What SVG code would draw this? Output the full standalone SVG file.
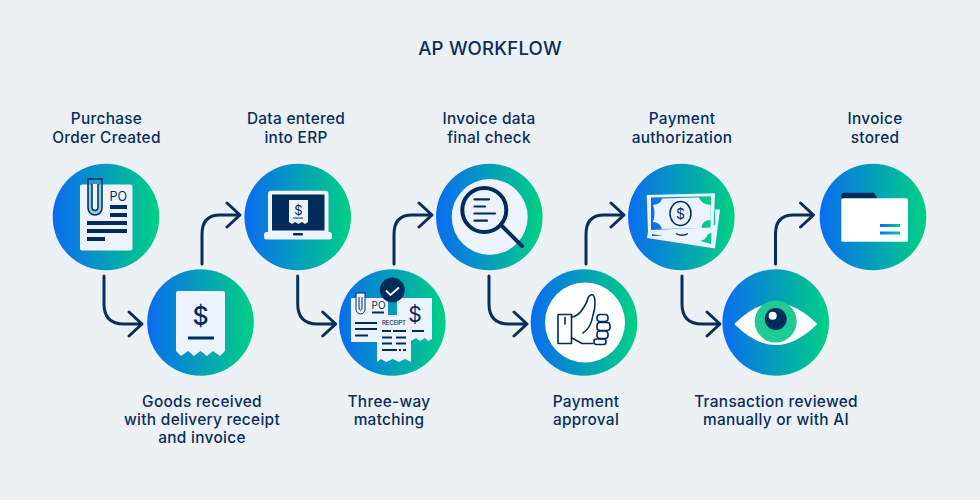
<svg xmlns="http://www.w3.org/2000/svg" width="980" height="500" viewBox="0 0 980 500">
<style>
text{font-family:"Inter","Noto Sans",sans-serif;fill:#0c2d57;font-weight:500}
.l{font-size:15.4px;letter-spacing:.3px;text-anchor:middle}
.c{fill:none;stroke:#0c2d57;stroke-width:3;stroke-linecap:round;stroke-linejoin:round}
.p{fill:#edf3fd}
.d{fill:#002c5c}
.s{fill:none;stroke:#002c5c;stroke-width:3}
.t{fill:none;stroke:#002c5c;stroke-width:1.6;stroke-linecap:round;stroke-linejoin:round}
.n{fill:url(#g)}
</style>
<defs>
<linearGradient id="g"><stop offset="0" stop-color="#0a6cf0"/><stop offset="1" stop-color="#00d084"/></linearGradient>
<path id="dn" class="c" d="M0 0V28Q0 48 20 48H37M25 36L38 48L25 60"/>
<path id="up" class="c" d="M0 0V-30Q0 -49 18 -49H37M25 -61L38 -49L25 -37"/>
</defs>
<rect width="980" height="500" fill="#ebf1f4"/>
<text x="490" y="55" style="font-size:18.6px;letter-spacing:.2px;text-anchor:middle">AP WORKFLOW</text>
<g id="connectors">
<use href="#dn" x="104" y="276"/><use href="#up" x="202" y="264"/>
<use href="#dn" x="297.7" y="276"/><use href="#up" x="394" y="264"/>
<use href="#dn" x="489" y="276"/><use href="#up" x="586" y="264"/>
<use href="#dn" x="682" y="276"/><use href="#up" x="775.5" y="264"/>
</g>
<g id="n1">
<circle class="n" cx="106" cy="217" r="53.3"/>
<rect class="p" x="80" y="184.500" width="52.500" height="66" rx="2"/>
<path d="M88 179H102V208A7 7 0 0 1 88 208Z" fill="#3aa7c9" fill-opacity=".5" stroke="#002c5c" stroke-width="1.500"/>
<path d="M92 184V207A3 3.500 0 0 0 98 207V184" fill="#edf3fd" stroke="#002c5c" stroke-width="1.500"/>
<text x="109.500" y="201" style="font-size:12.500px;font-weight:400">PO</text>
<path class="s" d="M110 207H127M110 215H127M87 223H127M87 231H127M87 239H105" style="stroke-width:4"/>
</g>
<g id="n2">
<circle class="n" cx="200.500" cy="322.500" r="53.300"/>
<path class="p" d="M176 293a2 2 0 0 1 2-2H223a2 2 0 0 1 2 2V351L220 356L213 351L207 356L200.500 351L194 356L188 351L181 356L176 351Z"/>
<text x="200.500" y="325" style="font-size:25px;text-anchor:middle;font-weight:500;fill:#002c5c">$</text>
<path class="s" d="M188 338H214"/>
</g>
<g id="n3">
<circle class="n" cx="297.700" cy="217" r="53.300"/>
<rect class="p" x="268" y="190.700" width="60.500" height="44" rx="3"/>
<rect class="d" x="272" y="194.500" width="52.500" height="36"/>
<rect class="p" x="264" y="232" width="68" height="7.500" rx="2.500"/>
<rect class="d" x="293" y="233" width="10" height="2.500" rx="1"/>
<path class="p" d="M289 200H308V222L305 224L302 222L298.500 224L295 222L292 224L289 222Z"/>
<text x="298.500" y="215" style="font-size:13px;text-anchor:middle;font-weight:400;fill:#002c5c">$</text>
<path d="M293 218H303" stroke="#002c5c" stroke-width="1"/>
</g>
<g id="n4">
<circle class="n" cx="392.300" cy="322.500" r="53.300"/>
<rect class="p" x="351" y="298" width="37" height="44" rx="1"/>
<path class="p" d="M397 298H432V339L428 341L425 338L420 341L416 338L411 341V315H397Z"/>
<path class="p" d="M377 315H411V362L405 359L399 362L393 359L386 362L381 359L377 362Z"/>
<circle class="d" cx="392.300" cy="290" r="12.500"/>
<path d="M386 290.500L390.500 295L399 287.500" fill="none" stroke="#edf3fd" stroke-width="2"/>
<path d="M356 293H365V309A4.500 5 0 0 1 356 309Z" fill="#edf3fd" stroke="#002c5c" stroke-width="1"/>
<path d="M359 297V308A1.500 2 0 0 0 362 308V297" fill="none" stroke="#002c5c" stroke-width="1"/>
<text x="371.500" y="309" style="font-size:10px;font-weight:400">PO</text>
<text x="382" y="325" style="font-size:6px;font-weight:500" textLength="24">RECEIPT</text>
<text x="415" y="322" style="font-size:21px;text-anchor:middle;font-weight:400;fill:#002c5c">$</text>
<path d="M372 312.500H384M355 323H377M355 329H377M355 335.500H368M412 331H424" stroke="#002c5c" stroke-width="2" fill="none"/>
<path d="M382 331H391M393 331H406M382 337.500H392M396 337.500H406M382 343.500H392M396 343.500H406M382 350H397M399 350H401M403 350H406" stroke="#002c5c" stroke-width="2" fill="none"/>
</g>
<g id="n5">
<circle class="n" cx="489.300" cy="217" r="53.300"/>
<circle class="p" cx="489.700" cy="217" r="38"/>
<circle cx="484.300" cy="210" r="22" fill="none" stroke="#002c5c" stroke-width="4"/>
<path d="M502 226L522 246" stroke="#002c5c" stroke-width="4" stroke-linecap="round"/>
<path d="M474.500 199.300H489M474.500 206.500H485M474.500 213.500H495M474.500 220.700H487" stroke="#002c5c" stroke-width="2.200" stroke-linecap="round"/>
</g>
<g id="n6">
<circle class="n" cx="584" cy="322.500" r="53.300"/>
<circle cx="585" cy="322.500" r="40" fill="#fff"/>
<rect class="t" x="558" y="314.500" width="13.500" height="29"/>
<path class="t" d="M565 317.500V324"/>
<path class="t" d="M572 317Q578 316 582 310Q587 303 588 298Q590 294 593 295Q595 297 595 303Q595 310 593 315Q591 328 583 333M572 338L582 343.500H593"/>
<rect class="t" x="597" y="314.500" width="11" height="7" rx="3"/>
<rect class="t" x="597" y="322.500" width="13" height="8" rx="3"/>
<rect class="t" x="597" y="331" width="11" height="7.500" rx="3"/>
<rect class="t" x="594" y="339" width="12" height="5.500" rx="2.500"/>
</g>
<g id="n7">
<circle class="n" cx="681.300" cy="217" r="53.300"/>
<path class="p" d="M715 209.500L720 209.500L715 248.500L647 238L648 232L715 225Z"/>
<path class="n" d="M652 234L663 236L652 236ZM700 241Q706 240 708 234L711.500 233L711 244Z"/>
<path d="M676 233.500Q682 237 688 233.500" fill="none" stroke="#002c5c" stroke-width="1.300"/>
<path class="p" d="M646.700 195L715 193.300L713.500 230L648 232Z"/>
<path class="n" d="M651 197.500L711 196.300L710.500 227.500L651 230Z"/>
<path class="p" d="M653 205Q661 204 662 198.500L699 197.500Q701 204 710.700 205V220Q702 220 701.700 228L662 229Q660 222 653 222Q656 213 653 205Z"/>
<ellipse cx="680.500" cy="213.500" rx="10.500" ry="12" fill="none" stroke="#002c5c" stroke-width="1.500"/>
<text x="680.500" y="219" style="font-size:14px;text-anchor:middle;font-weight:400;fill:#002c5c">$</text>
</g>
<g id="n8">
<circle class="n" cx="775.700" cy="322.500" r="53.300"/>
<path d="M734.300 324Q755 303 775.700 303Q796 303 817.300 324Q796 345 775.700 345Q755 345 734.300 324Z" fill="#fff"/>
<circle cx="775.700" cy="321.500" r="21" fill="#1ecb95"/>
<circle class="d" cx="775.700" cy="319" r="11"/>
<circle cx="772.700" cy="315.700" r="4" fill="#fff"/>
</g>
<g id="n9">
<circle class="n" cx="873" cy="217" r="53.300"/>
<path class="d" d="M841.300 199V195Q841.300 192.700 843.500 192.700H874L877.500 199Z"/>
<rect x="841.300" y="198.300" width="66.700" height="43.400" rx="1.500" fill="#fff"/>
<rect class="n" x="880" y="224" width="20" height="3"/>
<rect class="n" x="880" y="231.500" width="20" height="3"/>
</g>
<g id="labels">
<text class="l" x="106.500" y="124">Purchase</text><text class="l" x="106.500" y="142.500">Order Created</text>
<text class="l" x="296" y="124">Data entered</text><text class="l" x="296" y="142.500">into ERP</text>
<text class="l" x="489" y="124">Invoice data</text><text class="l" x="489" y="142.500">final check</text>
<text class="l" x="682" y="124">Payment</text><text class="l" x="682" y="142.500">authorization</text>
<text class="l" x="875" y="124">Invoice</text><text class="l" x="875" y="142.500">stored</text>
<text class="l" x="202" y="407">Goods received</text><text class="l" x="202" y="425">with delivery receipt</text><text class="l" x="202" y="443">and invoice</text>
<text class="l" x="389" y="407">Three-way</text><text class="l" x="389" y="425">matching</text>
<text class="l" x="586" y="407">Payment</text><text class="l" x="586" y="425">approval</text>
<text class="l" x="776" y="407">Transaction reviewed</text><text class="l" x="776" y="425">manually or with AI</text>
</g>
</svg>
